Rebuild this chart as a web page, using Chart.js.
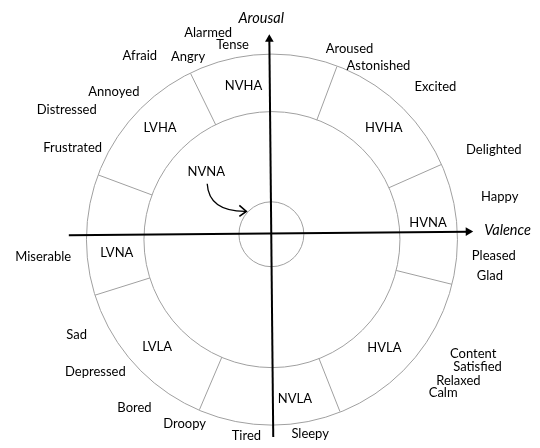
<!DOCTYPE html>
<html>
<head>
<meta charset="utf-8">
<title>Circumplex model of affect</title>
<script src="https://cdn.jsdelivr.net/npm/chart.js@4.4.1/dist/chart.umd.min.js"></script>
<style>
  html, body { margin: 0; padding: 0; background: #fff; }
  #wrap { position: relative; width: 540px; height: 448px; }
</style>
</head>
<body>
<div id="wrap"><canvas id="chart"></canvas></div>
<script>
// all values in units where the outer ring has radius 1 (valence = x, arousal = y)
var emotionWords = ['Alarmed', 'Tense', 'Afraid', 'Angry', 'Annoyed', 'Distressed', 'Frustrated',
  'Aroused', 'Astonished', 'Excited', 'Delighted', 'Happy', 'Pleased', 'Glad',
  'Content', 'Satisfied', 'Relaxed', 'Calm', 'Sleepy', 'Tired', 'Droopy', 'Bored',
  'Depressed', 'Sad', 'Miserable'];
var emotionValence = [-0.344, -0.212, -0.712, -0.452, -0.852, -1.106, -1.074,
  0.418, 0.574, 0.881, 1.196, 1.228, 1.196, 1.175,
  1.085, 1.108, 1.005, 0.923, 0.206, -0.138, -0.471, -0.741,
  -0.952, -1.053, -1.233];
var emotionArousal = [1.122, 1.053, 0.995, 0.989, 0.799, 0.704, 0.497,
  1.032, 0.942, 0.825, 0.487, 0.233, -0.090, -0.196,
  -0.619, -0.688, -0.767, -0.831, -1.053, -1.063, -0.995, -0.910,
  -0.714, -0.513, -0.095];

var regionNames = ['NVHA', 'LVHA', 'NVNA', 'HVHA', 'HVNA', 'LVNA', 'LVLA', 'HVLA', 'NVLA'];
var regionValence = [-0.153, -0.603, -0.354, 0.603, 0.841, -0.836, -0.619, 0.606, 0.124];
var regionArousal = [0.831, 0.603, 0.365, 0.603, 0.090, -0.069, -0.582, -0.587, -0.862];

var ringRadii = [0.69, 1.0];
var dividerAngles = [116, 69.5, 24, -14, -68.5, -113, -162.5, 159.5];
var neutralCentre = [-0.003, 0.029];
var neutralRadius = 0.175;

var valenceAxis = [[-1.095, 0.023], [1.058, 0.043]];
var arousalAxis = [[0.007, -1.069], [-0.014, 1.085]];
var axisTitles = ['Valence', 'Arousal'];
var axisTitleX = [1.27, -0.058];
var axisTitleY = [0.049, 1.198];

// start, control, end of the curved NVNA pointer
var nvnaArrow = [[-0.349, 0.302], [-0.34, 0.15], [-0.138, 0.153]];

var GREY = '#a0a0a0';
var INK = '#000';

function pt(p) { return { x: p[0], y: p[1] }; }

var datasets = [];

dividerAngles.forEach(function (a) {
  var rad = a * Math.PI / 180;
  datasets.push({
    data: [
      { x: ringRadii[0] * Math.cos(rad), y: ringRadii[0] * Math.sin(rad) },
      { x: ringRadii[1] * Math.cos(rad), y: ringRadii[1] * Math.sin(rad) }
    ],
    showLine: true,
    borderColor: GREY,
    borderWidth: 1,
    pointRadius: 0
  });
});

[[valenceAxis, 89.5], [arousalAxis, -0.5]].forEach(function (ax) {
  datasets.push({
    data: [pt(ax[0][0]), pt(ax[0][1])],
    showLine: true,
    borderColor: '#000',
    borderWidth: 2,
    pointStyle: 'triangle',
    pointRadius: [0, 5],
    rotation: [0, ax[1]],
    pointBackgroundColor: '#000',
    pointBorderColor: '#000',
    pointBorderWidth: 0
  });
});

var diagramPlugin = {
  id: 'diagram',
  beforeDatasetsDraw: function (chart) {
    var ctx = chart.ctx;
    var xs = chart.scales.x, ys = chart.scales.y;
    var unit = xs.getPixelForValue(1) - xs.getPixelForValue(0);
    ctx.save();
    ctx.strokeStyle = GREY;
    ctx.lineWidth = 1;
    ringRadii.forEach(function (r) {
      ctx.beginPath();
      ctx.arc(xs.getPixelForValue(0), ys.getPixelForValue(0), r * unit, 0, Math.PI * 2);
      ctx.stroke();
    });
    ctx.beginPath();
    ctx.arc(xs.getPixelForValue(neutralCentre[0]), ys.getPixelForValue(neutralCentre[1]),
      neutralRadius * unit, 0, Math.PI * 2);
    ctx.stroke();
    ctx.restore();
  },
  afterDatasetsDraw: function (chart) {
    var ctx = chart.ctx;
    var xs = chart.scales.x, ys = chart.scales.y;
    ctx.save();

    // curved pointer to the neutral circle
    var p0 = nvnaArrow[0], c = nvnaArrow[1], p1 = nvnaArrow[2];
    var ex = xs.getPixelForValue(p1[0]), ey = ys.getPixelForValue(p1[1]);
    ctx.strokeStyle = '#000';
    ctx.lineWidth = 1.3;
    ctx.beginPath();
    ctx.moveTo(xs.getPixelForValue(p0[0]), ys.getPixelForValue(p0[1]));
    ctx.quadraticCurveTo(xs.getPixelForValue(c[0]), ys.getPixelForValue(c[1]), ex, ey);
    ctx.stroke();
    ctx.lineWidth = 1.6;
    ctx.beginPath();
    ctx.moveTo(ex - 7, ey - 6);
    ctx.lineTo(ex, ey);
    ctx.lineTo(ex - 7, ey + 5);
    ctx.stroke();

    ctx.fillStyle = INK;
    ctx.textAlign = 'center';
    ctx.textBaseline = 'middle';
    ctx.font = '13px Lato';
    emotionWords.forEach(function (w, i) {
      ctx.fillText(w, xs.getPixelForValue(emotionValence[i]), ys.getPixelForValue(emotionArousal[i]));
    });
    regionNames.forEach(function (w, i) {
      ctx.fillText(w, xs.getPixelForValue(regionValence[i]), ys.getPixelForValue(regionArousal[i]));
    });
    ctx.font = 'italic 14.5px Lato';
    axisTitles.forEach(function (w, i) {
      ctx.fillText(w, xs.getPixelForValue(axisTitleX[i]), ys.getPixelForValue(axisTitleY[i]));
    });
    ctx.restore();
  }
};

new Chart(document.getElementById('chart'), {
  type: 'scatter',
  data: { datasets: datasets },
  options: {
    responsive: true,
    maintainAspectRatio: false,
    animation: false,
    events: [],
    layout: { padding: 0 },
    plugins: { legend: { display: false }, tooltip: { enabled: false } },
    scales: {
      x: { type: 'linear', display: false, min: -1.439, max: 1.418 },
      y: { type: 'linear', display: false, min: -1.101, max: 1.270 }
    }
  },
  plugins: [diagramPlugin]
});
</script>
</body>
</html>
